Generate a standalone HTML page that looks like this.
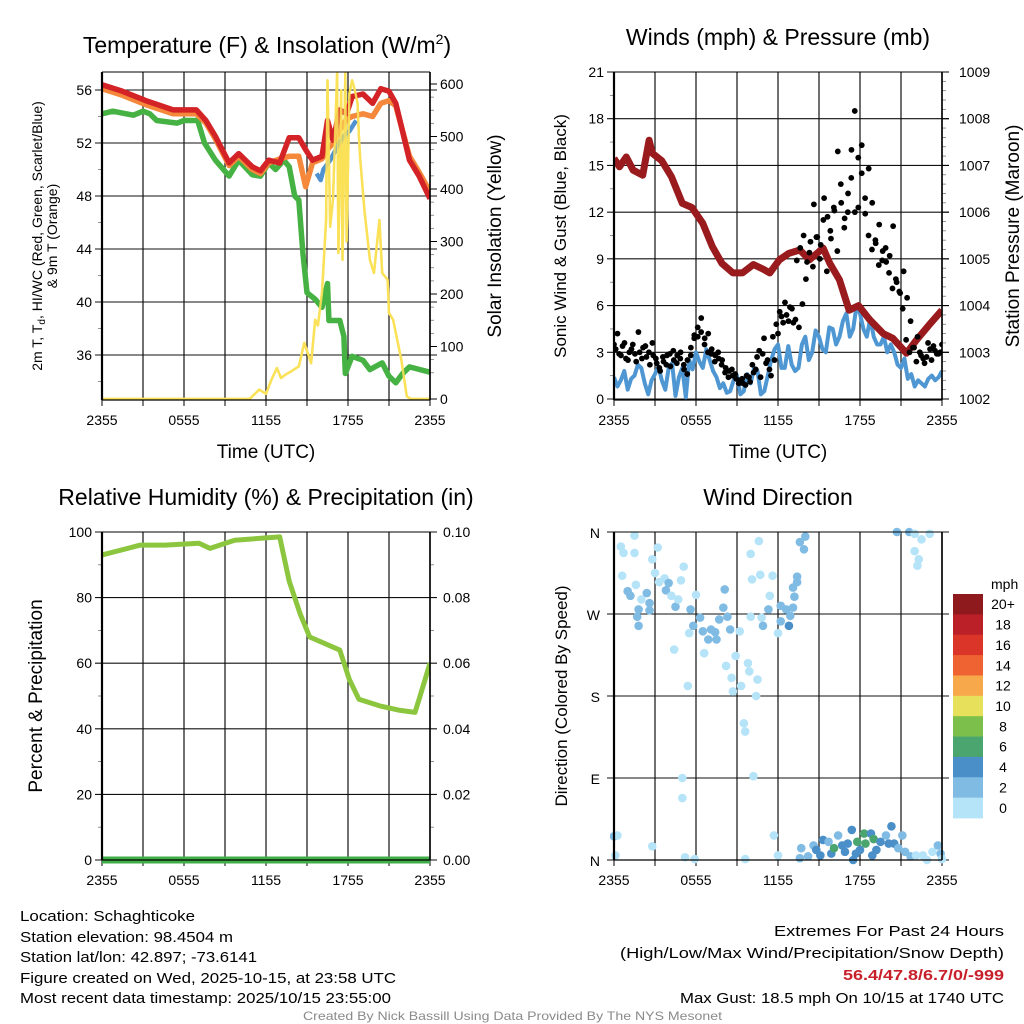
<!DOCTYPE html>
<html><head><meta charset="utf-8"><title>Schaghticoke Meteogram</title>
<style>
html,body{margin:0;padding:0;background:#fff;}
svg{display:block;font-family:"Liberation Sans",Arial,sans-serif;}
</style></head>
<body>
<svg id="chart" width="1024" height="1024" viewBox="0 0 1024 1024" xmlns="http://www.w3.org/2000/svg">
<defs>
<clipPath id="c1"><rect x="102" y="72" width="328" height="328"/></clipPath>
<clipPath id="c2"><rect x="614" y="72" width="328" height="328"/></clipPath>
<clipPath id="c3"><rect x="102" y="532" width="328" height="328"/></clipPath>
<clipPath id="c4"><rect x="610" y="525" width="340" height="342"/></clipPath>
</defs>
<g id="titles">
<text x="267" y="53" font-size="23" text-anchor="middle">Temperature (F) &amp; Insolation (W/m<tspan font-size="14" dy="-9">2</tspan><tspan dy="9">)</tspan></text>
<text x="778" y="45" font-size="23" text-anchor="middle">Winds (mph) &amp; Pressure (mb)</text>
<text x="266" y="505" font-size="23" text-anchor="middle">Relative Humidity (%) &amp; Precipitation (in)</text>
<text x="778" y="505" font-size="23" text-anchor="middle">Wind Direction</text>
</g>
<g id="p1"></g><g id="p2"></g><g id="p3"></g><g id="p4"></g>
<g id="labels">
<text transform="translate(42,236) rotate(-90)" font-size="14" text-anchor="middle">2m T, T<tspan font-size="10" dy="3">d</tspan><tspan dy="-3">, HI/WC (Red, Green, Scarlet/Blue)</tspan></text>
<text transform="translate(57,236) rotate(-90)" font-size="14" text-anchor="middle">&amp; 9m T (Orange)</text>
<text transform="translate(501,236) rotate(-90)" font-size="19" text-anchor="middle">Solar Insolation (Yellow)</text>
<text transform="translate(566,236) rotate(-90)" font-size="17" text-anchor="middle">Sonic Wind &amp; Gust (Blue, Black)</text>
<text transform="translate(1019,236) rotate(-90)" font-size="19" text-anchor="middle">Station Pressure (Maroon)</text>
<text transform="translate(42,696) rotate(-90)" font-size="19" text-anchor="middle">Percent &amp; Precipitation</text>
<text transform="translate(567,696) rotate(-90)" font-size="17" text-anchor="middle">Direction (Colored By Speed)</text>
<text x="266" y="458" font-size="19" text-anchor="middle">Time (UTC)</text>
<text x="778" y="458" font-size="19" text-anchor="middle">Time (UTC)</text>
</g>
<g id="legend"></g>
<g id="footer" font-size="15">
<text x="20" y="921" textLength="175" lengthAdjust="spacingAndGlyphs">Location: Schaghticoke</text>
<text x="20" y="942" textLength="213" lengthAdjust="spacingAndGlyphs">Station elevation: 98.4504 m</text>
<text x="20" y="962" textLength="237" lengthAdjust="spacingAndGlyphs">Station lat/lon: 42.897; -73.6141</text>
<text x="20" y="983" textLength="376" lengthAdjust="spacingAndGlyphs">Figure created on Wed, 2025-10-15, at 23:58 UTC</text>
<text x="20" y="1003" textLength="371" lengthAdjust="spacingAndGlyphs">Most recent data timestamp: 2025/10/15 23:55:00</text>
<text x="774" y="936" textLength="230" lengthAdjust="spacingAndGlyphs">Extremes For Past 24 Hours</text>
<text x="620" y="958" textLength="384" lengthAdjust="spacingAndGlyphs">(High/Low/Max Wind/Precipitation/Snow Depth)</text>
<text x="843" y="980" textLength="161" lengthAdjust="spacingAndGlyphs" fill="#c8202a" font-weight="bold">56.4/47.8/6.7/0/-999</text>
<text x="680" y="1003" textLength="324" lengthAdjust="spacingAndGlyphs">Max Gust: 18.5 mph On 10/15 at 1740 UTC</text>
<text x="303" y="1020" font-size="12" fill="#8a8a8a" textLength="419" lengthAdjust="spacingAndGlyphs">Created By Nick Bassill Using Data Provided By The NYS Mesonet</text>
</g>
</svg>
<script>
// ---------- data ----------
const xTickLabels = ["2355","0555","1155","1755","2355"];
const tempTicks = [56,52,48,44,40,36];
const solarTicks = [0,100,200,300,400,500,600];
const windTicks = [0,3,6,9,12,15,18,21];
const presTicks = [1002,1003,1004,1005,1006,1007,1008,1009];
const rhTicks = [0,20,40,60,80,100];
const precipTicks = ["0.00","0.02","0.04","0.06","0.08","0.10"];
const dirTickLabels = ["N","E","S","W","N"];

const tempHours = [0,1.5,3.2,5.2,6.9,7.6,8.3,9.3,10,11,11.6,12.2,13,13.7,14.4,14.9,15.4,16.1,16.5,16.9,17.4,17.9,18.3,19.1,19.8,20.4,21,21.5,22.5,23.2,24];
const tempRed = [56.4,55.9,55.2,54.5,54.5,53.7,52.5,50.5,51.2,50.2,49.9,50.7,50.5,52.4,52.4,51.5,50.7,51.0,53.7,52.2,54.5,54.2,55.5,55.7,55.0,56.1,55.9,55.0,50.7,49.5,47.8];
const tempOrange = [56.1,55.6,54.9,54.2,54.2,53.5,52.3,50.3,51.0,50.0,49.7,50.5,50.8,51.0,51.0,48.7,50.5,50.8,51.5,52.0,53.0,53.8,54.0,54.2,54.0,55.0,55.2,54.8,51.0,49.8,48.3];
const dewHours = [0,0.8,2.3,3.0,3.5,4.0,5.5,6.0,7.0,7.5,8.3,9.3,10.0,11.0,11.6,12.2,12.7,13.3,13.7,14.1,14.4,14.7,15.0,15.6,16.1,16.5,16.6,17.4,17.7,17.8,18.3,19.1,19.6,20.5,21.0,21.5,22.0,22.5,24];
const dewVals = [54.2,54.4,54.1,54.4,54.2,53.7,53.5,53.7,53.7,52.0,50.7,49.5,50.7,49.6,49.5,50.5,50.0,50.7,50.2,48.0,47.7,43.7,40.7,40.2,39.6,41.4,38.6,38.6,37.4,34.6,35.9,35.6,34.9,35.4,34.4,33.9,34.6,35.1,34.7];
const wcHours = [15.7,16.0,16.2,16.7,17.2,17.6,18.1,18.6];
const wcVals = [49.7,49.2,50.0,50.7,51.7,52.4,52.9,53.7];
const solarHours = [0,10.8,11.5,12.0,12.4,12.8,13.1,13.4,13.8,14.4,14.8,15.3,15.6,15.8,16.1,16.4,16.5,16.7,16.9,17.2,17.3,17.5,17.6,17.8,17.9,18.1,18.3,18.5,18.7,18.8,18.9,19.2,19.6,19.9,20.3,20.5,20.9,21.0,21.3,21.9,22.3,22.6,24];
const solarVals = [0,0,18,10,37,59,40,46,52,62,107,68,151,140,202,341,607,328,380,620,278,588,265,620,300,582,607,588,563,500,455,360,265,240,341,240,227,164,151,75,5,0,0];

const pHours = [0,0.4,0.9,1.4,2.1,2.57,2.8,3.5,4.2,5.0,5.7,6.5,7.2,7.9,8.7,9.4,10.2,10.9,11.4,12.1,12.8,13.6,14.3,15.3,15.8,16.5,17.2,17.9,18.7,19.7,20.4,21.4,22.1,23.1,24];
const pVals = [1007.15,1006.97,1007.18,1006.9,1006.79,1007.54,1007.26,1007.1,1006.76,1006.19,1006.1,1005.76,1005.26,1004.9,1004.7,1004.7,1004.88,1004.78,1004.7,1004.98,1005.12,1005.19,1004.98,1005.23,1004.9,1004.55,1003.9,1004.0,1003.7,1003.4,1003.3,1002.98,1003.25,1003.6,1003.9];
const windVals = [1.4,0.8,1.2,1.8,0.6,1.3,1.5,2.2,2.0,1.0,0.3,1.2,1.6,2.1,1.2,0.6,2.0,2.3,0.2,1.4,2.0,0.1,2.5,1.9,3.0,2.4,2.0,3.2,2.5,1.8,1.4,0.7,1.0,0.4,0.5,1.2,1.5,0.3,0.5,1.6,1.0,2.0,1.8,0.3,0.5,1.5,2.5,3.2,3.5,2.0,2.0,3.4,2.2,1.8,2.0,3.5,4.0,2.5,3.0,4.4,4.0,3.2,3.0,4.6,4.5,3.5,4.0,5.0,5.5,4.0,4.5,6.0,5.5,4.5,4.0,5.2,4.0,3.5,3.5,4.0,3.0,3.5,3.0,2.2,2.0,2.6,1.3,1.6,0.8,1.2,1.0,0.8,1.3,1.5,1.2,1.4,1.8];
const gustVals = [3.5,4.2,2.8,3.6,2.5,3.2,2.9,4.3,2.6,3.4,3.0,3.6,2.6,2.0,2.7,2.2,2.9,3.1,2.3,2.6,2.2,1.6,2.8,3.9,4.0,5.2,3.9,4.2,3.2,2.8,2.6,2.5,2.0,1.8,1.5,1.3,1.2,1.0,1.5,1.1,1.7,2.7,1.4,3.9,2.5,1.5,2.5,4.2,5.3,6.2,5.0,5.8,5.1,4.6,6.1,7.7,9.4,8.5,10.4,9.0,11.5,8.2,10.8,12.3,9.5,13.8,11.0,12.0,14.2,18.5,15.5,16.3,11.9,14.8,12.6,10.0,11.2,9.5,8.8,9.2,11.1,7.5,6.8,8.2,6.5,5.0,3.3,4.0,2.8,2.3,3.6,2.5,3.1,2.9,3.5];
const gustVals2 = [3.2,2.9,3.4,2.6,3.0,3.5,2.4,3.0,3.3,2.7,2.2,2.8,2.3,1.8,2.4,2.8,2.1,2.5,2.8,3.0,1.9,2.5,3.3,4.1,4.6,4.3,3.5,3.0,2.9,2.4,3.0,2.2,1.7,1.4,1.9,1.6,1.0,1.3,0.9,1.4,2.2,1.9,3.1,2.9,2.3,1.9,4.0,4.8,5.6,4.9,5.4,5.9,4.9,8.9,9.7,10.5,8.8,10.1,12.5,10.4,9.9,12.9,11.7,10.3,12.1,15.9,12.6,11.6,13.2,16.0,12.0,12.3,14.5,12.9,10.5,9.6,10.2,8.6,8.9,9.7,8.1,7.1,7.7,6.9,5.8,3.8,3.0,3.3,2.4,3.0,2.6,2.7,3.2,3.4,2.9,3.0];

const rhHours = [0,2.8,4.6,7.1,7.9,9.7,13.0,13.7,14.5,15.2,17.4,18.1,18.8,20.3,21.7,22.9,23.2,24];
const rhVals = [93,96,96,96.6,95,97.5,98.5,85,75,68,64,55,49,47,45.7,45,49,60];
const precipHours = [0,24];
const precipVals = [0,0];

const dirHours = [0,0.25,0.1,0.5,0.7,1.5,1.5,0.6,1.0,1.2,1.6,2.0,2.4,2.6,1.8,1.7,1.8,2.6,2.8,2.8,3.2,3.0,3.3,3.7,4.0,3.8,4.2,4.5,4.7,4.4,4.9,5.1,5.0,5.0,5.2,5.9,
 5.4,5.5,5.6,5.8,6.0,6.3,6.5,6.9,6.6,7.1,7.4,7.5,7.7,8.0,8.1,8.3,8.5,8.2,8.6,8.9,9.2,8.7,9.3,9.6,9.5,9.6,9.8,9.9,10.0,10.2,10.4,10.5,10.1,10.6,10.0,10.7,10.8,10.9,11.3,11.4,11.6,11.7,12.0,12.0,12.2,12.2,12.6,12.8,12.9,13.1,13.2,13.1,13.4,13.4,13.6,13.9,14.0,
 13.6,13.7,14.2,14.6,14.8,15.1,15.3,15.7,15.9,16.1,16.4,16.7,16.9,17.1,17.4,17.5,17.7,17.8,18.0,18.3,18.4,18.8,19.0,18.9,19.2,19.5,19.9,20.1,20.3,20.5,20.8,21.1,21.3,21.7,22.1,22.6,22.9,23.3,23.7,23.9,24,
 20.7,21.6,22.0,22.5,23.1,22.0,22.3,22.2];
const dirDeg = [26,27,5,344,337,356,337,312,295,290,302,286,293,282,275,267,257,274,330,15,343,315,305,309,304,296,290,278,286,231,307,322,90,68,3,1,
 191,249,275,257,291,266,251,242,227,253,250,242,264,277,297,267,253,213,200,224,251,185,191,1,150,141,216,207,267,92,180,198,308,350,336,313,266,257,275,290,312,27,5,249,262,279,275,257,268,277,289,299,305,311,349,341,355,
 2,13,4,16,11,5,22,20,7,13,27,16,9,18,33,0,7,20,11,29,18,29,23,5,11,20,27,18,37,18,13,27,9,4,5,5,0,9,16,7,1,
 360,360,358,352,358,339,330,323];
const dirSpd = [3,1,1,1,1,1,1,1,3,3,1,1,3,3,3,3,3,3,1,1,1,1,1,1,3,3,1,3,1,1,1,1,1,1,1,1,
 1,1,3,3,1,3,3,3,1,3,3,3,3,3,3,3,3,1,1,1,1,1,1,1,1,1,1,1,1,1,1,1,1,1,1,1,1,3,3,1,1,1,1,1,3,3,3,5,3,3,3,3,3,3,3,3,3,
 2,2,2,3,4,4,4,3,4,7,3,4,4,4,4,4,4,7,4,7,7,4,7,4,4,4,3,4,4,4,3,3,3,3,1,1,1,1,3,3,1,
 3,3,1,1,1,1,1,1];

const legendLabels = ["20+","18","16","14","12","10","8","6","4","2","0"];
const legendColors = ["#8e1a1d","#bb1f27","#db3429","#ee6331","#f6a84b","#e6e05b","#7cc04b","#4aa56f","#4a8fc8","#80bbe4","#b5e3f8"];

// ---------- helpers ----------
const NS="http://www.w3.org/2000/svg";
function mk(parent,tag,attrs,text){const e=document.createElementNS(NS,tag);for(const k in attrs)e.setAttribute(k,attrs[k]);if(text!==undefined)e.textContent=text;parent.appendChild(e);return e;}
function linScale(d0,d1,r0,r1){return v=>r0+(v-d0)/(d1-d0)*(r1-r0);}
function pathD(xs,ys,sx,sy){return xs.map((h,i)=>(i?"L":"M")+sx(h).toFixed(1)+","+sy(ys[i]).toFixed(1)).join("");}

function frame(g,L,T,W,H,prefix){
  const sx=linScale(0,24,L,L+W);
  for(let h=0;h<=24;h+=3){
    const gl=mk(g,"line",{x1:sx(h),x2:sx(h),y1:T,y2:T+H,stroke:"#111","stroke-width":1.2});
    
    
    mk(g,"line",{x1:sx(h),x2:sx(h),y1:T+H,y2:T+H+6,stroke:"#000","stroke-width":1});
  }
  xTickLabels.forEach((lab,i)=>{
    const t=mk(g,"text",{x:sx(i*6),y:T+H+25,"font-size":14,"text-anchor":"middle"},lab);
    
    
  });
  return sx;
}
function hgrid(g,L,W,ys,prefix){
  ys.forEach(y=>{
    const l=mk(g,"line",{x1:L-7,x2:L+W+7,y1:y,y2:y,stroke:"#111","stroke-width":1.1});
    
    
  });
}
function border(g,L,T,W,H){
  mk(g,"line",{x1:L,x2:L,y1:T,y2:T+H,stroke:"#000","stroke-width":2.2});
  mk(g,"line",{x1:L+W,x2:L+W,y1:T,y2:T+H,stroke:"#000","stroke-width":1.6});
  mk(g,"line",{x1:L,x2:L+W,y1:T,y2:T,stroke:"#000","stroke-width":1});
  mk(g,"line",{x1:L,x2:L+W,y1:T+H,y2:T+H,stroke:"#000","stroke-width":1.2});
}
function minor(g,x,ys,dir){ys.forEach(y=>mk(g,"line",{x1:x,x2:x+dir*4,y1:y,y2:y,stroke:"#777","stroke-width":0.8}));}

// ---------- panel 1: temperature ----------
(function(){
  const g=document.getElementById("p1");
  
  
  const L=102,T=72,W=328,H=328;
  const sy=linScale(56,36,90,355);
  const sr=linScale(0,600,399,84);
  const sx=frame(g,L,T,W,H,"temperature");
  hgrid(g,L,W,tempTicks.map(sy),"temperature");
  const mins=[];for(let v=34;v<=57;v+=2)if(v%4)mins.push(sy(v));minor(g,L,mins.filter(y=>y>T&&y<T+H),-1);
  const rmins=[];for(let v=50;v<620;v+=25)if(v%100)rmins.push(sr(v));minor(g,L+W,rmins,1);
  tempTicks.forEach(v=>{const t=mk(g,"text",{x:L-10,y:sy(v)+5,"font-size":14,"text-anchor":"end"},String(v));});
  solarTicks.forEach(v=>{mk(g,"line",{x1:L+W,x2:L+W+7,y1:sr(v),y2:sr(v),stroke:"#000"});const t=mk(g,"text",{x:L+W+10,y:sr(v)+5,"font-size":14},String(v));});
  const c=mk(g,"g",{"clip-path":"url(#c1)"});
  const s1=mk(c,"path",{d:pathD(solarHours,solarVals,sx,sr),fill:"none",stroke:"#f7df4e","stroke-width":2.4,"stroke-linejoin":"round"});
  
  const s2=mk(c,"path",{d:pathD(dewHours,dewVals,sx,sy),fill:"none",stroke:"#46b243","stroke-width":5.5,"stroke-linejoin":"round"});
  
  const s3=mk(c,"path",{d:pathD(tempHours,tempOrange,sx,sy),fill:"none",stroke:"#f5883a","stroke-width":5.5,"stroke-linejoin":"round"});
  
  const s4=mk(c,"path",{d:pathD(wcHours,wcVals,sx,sy),fill:"none",stroke:"#4f92cf","stroke-width":4.5,"stroke-linejoin":"round"});
  
  const s5=mk(c,"path",{d:pathD(tempHours,tempRed,sx,sy),fill:"none",stroke:"#d42327","stroke-width":5.5,"stroke-linejoin":"round"});
  
  const s6=mk(c,"path",{d:pathD(solarHours,solarVals,sx,sr),fill:"none",stroke:"#f9e15a","stroke-width":2.4,"stroke-linejoin":"round","opacity":0.9});
  
  border(g,L,T,W,H);
})();

// ---------- panel 2: winds ----------
(function(){
  const g=document.getElementById("p2");
  
  
  const L=614,T=72,W=328,H=328;
  const sy=linScale(0,21,399,72);
  const sp=linScale(1002,1009,399,72);
  const sx=frame(g,L,T,W,H,"wind");
  hgrid(g,L,W,windTicks.map(sy),"wind");
  const mins=[];for(let v=1.5;v<21;v+=3)mins.push(sy(v));minor(g,L,mins,-1);
  const rm=[];for(let v=1002.2;v<1009;v+=0.2){if(Math.abs(v-Math.round(v))>0.05)rm.push(sp(v));}minor(g,L+W,rm,1);
  windTicks.forEach(v=>{const t=mk(g,"text",{x:L-10,y:sy(v)+5,"font-size":14,"text-anchor":"end"},String(v));});
  presTicks.forEach(v=>{mk(g,"line",{x1:L+W,x2:L+W+7,y1:sp(v),y2:sp(v),stroke:"#000"});const t=mk(g,"text",{x:L+W+17,y:sp(v)+5,"font-size":14},String(v));});
  const c=mk(g,"g",{"clip-path":"url(#c2)"});
  const wh=windVals.map((v,i)=>i*24/(windVals.length-1));
  const w=mk(c,"path",{d:pathD(wh,windVals,sx,sy),fill:"none",stroke:"#4f97d2","stroke-width":4,"stroke-linejoin":"round"});
  
  const p=mk(c,"path",{d:pathD(pHours,pVals,sx,sp),fill:"none",stroke:"#9a1b1e","stroke-width":7,"stroke-linejoin":"round"});
  
  gustVals.forEach((v,i)=>{
    const h=i*24/(gustVals.length-1);
    const d=mk(c,"circle",{cx:sx(h),cy:sy(v),r:2.9,fill:"#000"});
    
    
  });
  gustVals2.forEach((v,i)=>{
    const h=0.125+i*0.25;
    const d=mk(c,"circle",{cx:sx(h),cy:sy(v),r:2.9,fill:"#000"});
    
    
  });
  border(g,L,T,W,H);
})();

// ---------- panel 3: RH ----------
(function(){
  const g=document.getElementById("p3");
  
  
  const L=102,T=532,W=328,H=328;
  const sy=linScale(0,100,860,532);
  const sx=frame(g,L,T,W,H,"humidity");
  hgrid(g,L,W,rhTicks.map(sy),"humidity");
  const mins=[];for(let v=10;v<100;v+=20)mins.push(sy(v));minor(g,L,mins,-1);minor(g,L+W,mins,1);
  rhTicks.forEach((v,i)=>{
    const t=mk(g,"text",{x:L-10,y:sy(v)+5,"font-size":14,"text-anchor":"end"},String(v));
    const t2=mk(g,"text",{x:L+W+13,y:sy(v)+5,"font-size":14},precipTicks[i]);
  });
  const c=mk(g,"g",{"clip-path":"url(#c3)"});
  const r=mk(c,"path",{d:pathD(rhHours,rhVals,sx,sy),fill:"none",stroke:"#8cc63f","stroke-width":5,"stroke-linejoin":"round"});
  
  const psy=linScale(0,0.1,860,532);
  const pr=mk(g,"path",{d:pathD(precipHours,precipVals,sx,psy),fill:"none",stroke:"#3fae49","stroke-width":7});
  
  border(g,L,T,W,H);
})();

// ---------- panel 4: wind direction ----------
(function(){
  const g=document.getElementById("p4");
  
  
  const L=614,T=532,W=328,H=328;
  const sy=linScale(0,360,860,532);
  const sx=frame(g,L,T,W,H,"direction");
  hgrid(g,L,W,[0,90,180,270,360].map(sy),"direction");
  dirTickLabels.forEach((lab,i)=>{const t=mk(g,"text",{x:L-14,y:sy(i*90)+6,"font-size":14,"text-anchor":"end"},lab);});
  const c=mk(g,"g",{"clip-path":"url(#c4)"});
  dirHours.forEach((h,i)=>{
    const s=dirSpd[i];
    const bin=Math.min(10,Math.floor(s/2));
    const col=legendColors[10-bin];
    const d=mk(c,"circle",{cx:sx(h),cy:sy(dirDeg[i]),r:4.3,fill:col});
    
    
  });
  border(g,L,T,W,H);
})();

// ---------- legend ----------
(function(){
  const g=document.getElementById("legend");
  
  
  const t=mk(g,"text",{x:991,y:589,"font-size":14},"mph");
  
  const top=594,bh=224/11;
  legendLabels.forEach((lab,i)=>{
    const r=mk(g,"rect",{x:953,y:top+i*bh,width:30,height:bh+0.4,fill:legendColors[i]});
    
    const tx=mk(g,"text",{x:1003,y:top+i*bh+bh/2+5,"font-size":14,"text-anchor":"middle"},lab);
    
  });
})();
</script>
</body></html>
